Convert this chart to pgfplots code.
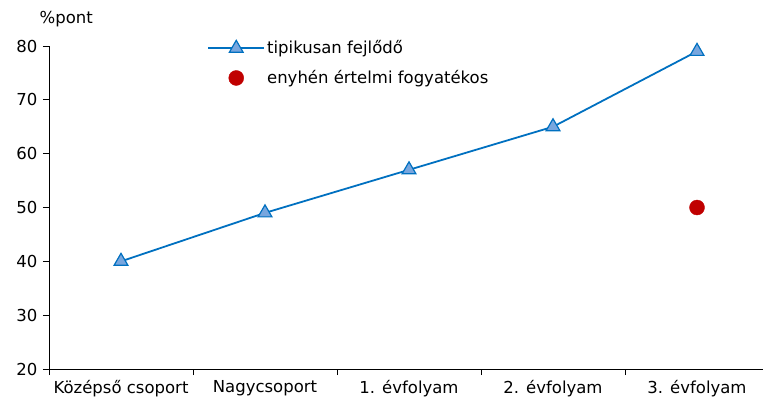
\documentclass[border=0pt]{standalone}
\usepackage{pgfplots}
\pgfplotsset{compat=1.18}
\usepackage{fontspec}
\setmainfont{DejaVu Sans}
\definecolor{lineblue}{RGB}{0,112,192}
\definecolor{markfill}{RGB}{120,166,222}
\definecolor{dotred}{RGB}{192,0,0}
\pgfplotsset{
  longlinelegend/.style={legend image code/.code={\draw[mark repeat=2,mark phase=2,##1] plot coordinates {(0bp,0bp) (28bp,0bp) (56bp,0bp)};}},
  dotlegend/.style={legend image code/.code={\draw[##1] plot coordinates {(28bp,0bp)};}},
}
\begin{document}
\fontsize{16.5bp}{19bp}\selectfont
\begin{tikzpicture}
\begin{axis}[
  name=ax,
  scale only axis,
  width=720bp, height=323bp,
  xmin=-0.5, xmax=4.5,
  ymin=20, ymax=80,
  ytick={20,30,...,80},
  xtick={-0.5,0.5,1.5,2.5,3.5,4.5},
  x tick label as interval,
  xticklabels={Középső csoport,Nagycsoport,1. évfolyam,2. évfolyam,3. évfolyam},
  axis x line*=bottom,
  axis y line*=left,
  tick align=outside,
  major tick length=6bp,
  xtick style={black, line width=1pt},
  ytick style={black, line width=1pt},
  axis line style={black, line width=1pt, -},
  /pgf/number format/assume math mode=true,
  tick label style={font=\fontsize{16.5bp}{19bp}\selectfont},
  legend style={draw=none, fill=none, at={(0.2155,1.03)}, anchor=north west,
    font=\fontsize{16.5bp}{19bp}\selectfont, row sep=10bp},
  legend cell align=left,
  clip=false,
]
\addplot[lineblue, line width=1.8pt, mark=triangle*, mark size=8bp,
  mark options={fill=markfill, draw=lineblue, line width=1.2pt}, longlinelegend]
  coordinates {(0,40) (1,49) (2,57) (3,65) (4,79)};
\addlegendentry{tipikusan fejlődő}
\addplot[only marks, mark=*, mark size=7.5bp, color=dotred, dotlegend]
  coordinates {(4,50)};
\addlegendentry{enyhén értelmi fogyatékos}
\node[anchor=base west, font=\fontsize{16.5bp}{19bp}\selectfont] at (rel axis cs:0,1) [xshift=-15bp, yshift=23bp] {\%pont};
\end{axis}
\pgfresetboundingbox
\path ([xshift=-49bp,yshift=-36bp]ax.south west) rectangle ([xshift=-6bp,yshift=46bp]ax.north east);
\end{tikzpicture}
\end{document}
